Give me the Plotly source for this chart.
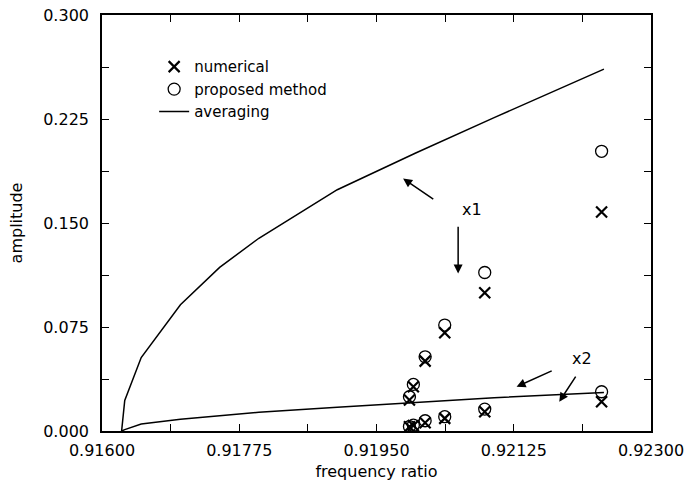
import plotly.graph_objects as go

# ---------------- data ----------------
freq_points = [0.91992, 0.91997, 0.92012, 0.92037, 0.92088, 0.92237]
numerical_x1 = [0.0223, 0.0319, 0.0504, 0.0708, 0.0997, 0.1580]
proposed_x1 = [0.0247, 0.0336, 0.0535, 0.0764, 0.1143, 0.2017]
numerical_x2 = [0.0030, 0.0040, 0.0060, 0.0091, 0.0139, 0.0211]
proposed_x2 = [0.0032, 0.0042, 0.0074, 0.0103, 0.0158, 0.0283]

avg_freq = [0.91625, 0.91629, 0.9165, 0.9170, 0.9175, 0.9180, 0.9190, 0.9200, 0.9210, 0.9224]
avg_x1 = [0.0, 0.022, 0.053, 0.091, 0.118, 0.139, 0.174, 0.2005, 0.226, 0.261]
avg_x2 = [0.0, 0.001, 0.005, 0.0085, 0.011, 0.0135, 0.0172, 0.0207, 0.024, 0.0277]

x_ticks = [0.91600, 0.91775, 0.91950, 0.92125, 0.92300]
y_ticks = [0.000, 0.075, 0.150, 0.225, 0.300]

FONT = "DejaVu Sans"

fig = go.Figure()

fig.add_trace(go.Scatter(
    x=freq_points + freq_points, y=numerical_x1 + numerical_x2,
    mode="markers", name="numerical",
    marker=dict(symbol="x-thin-open", size=11, color="black",
                line=dict(color="black", width=2.2)),
))
fig.add_trace(go.Scatter(
    x=freq_points + freq_points, y=proposed_x1 + proposed_x2,
    mode="markers", name="proposed method",
    marker=dict(symbol="circle-open", size=12, color="black",
                line=dict(color="black", width=1.3)),
))
fig.add_trace(go.Scatter(
    x=avg_freq, y=avg_x1, mode="lines", name="averaging",
    line=dict(color="black", width=1.5),
))
fig.add_trace(go.Scatter(
    x=avg_freq, y=avg_x2, mode="lines", name="averaging",
    showlegend=False, line=dict(color="black", width=1.5),
))

# annotation arrows and labels
arrows = [
    dict(x=0.919839, y=0.1821, ax=0.920243, ay=0.1664),
    dict(x=0.920541, y=0.1136, ax=0.920541, ay=0.1484),
    dict(x=0.921286, y=0.0319, ax=0.921753, ay=0.0439),
    dict(x=0.92183, y=0.0211, ax=0.922052, ay=0.0403),
]
for a in arrows:
    fig.add_annotation(x=a["x"], y=a["y"], ax=a["ax"], ay=a["ay"],
                       xref="x", yref="y", axref="x", ayref="y",
                       text="", showarrow=True, arrowhead=2, arrowsize=1.2,
                       arrowwidth=1.5, arrowcolor="black")
fig.add_annotation(x=0.92072, y=0.160, xref="x", yref="y", text="x1",
                   showarrow=False, font=dict(family=FONT, size=16, color="black"))
fig.add_annotation(x=0.92212, y=0.0524, xref="x", yref="y", text="x2",
                   showarrow=False, font=dict(family=FONT, size=16, color="black"))

axis_common = dict(
    showline=True, linecolor="black", linewidth=1.6, mirror="allticks",
    ticks="inside", ticklen=7, tickwidth=1.2, tickcolor="black",
    showgrid=False, zeroline=False, automargin=False,
    tickfont=dict(family=FONT, size=16, color="black"),
)

fig.update_xaxes(
    range=[0.916, 0.923], tickvals=x_ticks, tickformat=".5f",
    minor=dict(dtick=0.000875, tick0=0.916, ticks="inside", ticklen=7,
               tickwidth=1.2, tickcolor="black", showgrid=False),
    title=dict(text="frequency ratio", standoff=7,
               font=dict(family=FONT, size=16, color="black")),
    ticklabelstandoff=4,
    **axis_common,
)
fig.update_yaxes(
    range=[0, 0.3], tickvals=y_ticks, tickformat=".3f",
    minor=dict(dtick=0.0375, tick0=0, ticks="inside", ticklen=7,
               tickwidth=1.2, tickcolor="black", showgrid=False),
    title=dict(text="amplitude", standoff=17,
               font=dict(family=FONT, size=16, color="black")),
    ticklabelstandoff=8,
    **axis_common,
)

fig.update_layout(
    width=687, height=484,
    font=dict(family=FONT, color="black"),
    margin=dict(l=102, r=36, t=15, b=53),
    paper_bgcolor="white", plot_bgcolor="white",
    showlegend=True,
    legend=dict(x=0.095, y=0.915, xanchor="left", yanchor="top",
                bgcolor="rgba(0,0,0,0)", borderwidth=0,
                font=dict(family=FONT, size=15, color="black"),
                tracegroupgap=0, itemwidth=30),
)

fig.write_html("out.html")
